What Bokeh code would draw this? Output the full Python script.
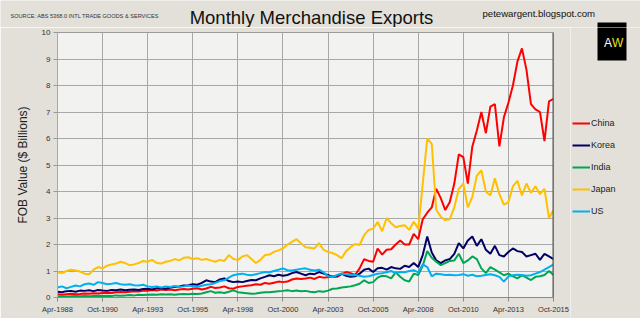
from bokeh.plotting import figure
from bokeh.layouts import column, row
from bokeh.models import Range1d, FixedTicker, Label, Span, Legend, LegendItem
from bokeh.embed import file_html
from bokeh.resources import INLINE

# month index: 0 = Apr-1988, quarterly readings up to 330 = Oct-2015
months = list(range(0, 331, 3))
tick_months = [0, 30, 60, 90, 120, 150, 180, 210, 240, 270, 300, 330]
tick_labels = ["Apr-1988", "Oct-1990", "Apr-1993", "Oct-1995", "Apr-1998", "Oct-2000",
               "Apr-2003", "Oct-2005", "Apr-2008", "Oct-2010", "Apr-2013", "Oct-2015"]
y_ticks = [0, 1, 2, 3, 4, 5, 6, 7, 8, 9, 10]

china = [0.12, 0.10, 0.12, 0.14, 0.12, 0.13, 0.15, 0.14, 0.16, 0.15,
         0.17, 0.18, 0.17, 0.20, 0.21, 0.20, 0.22, 0.24, 0.23, 0.26,
         0.25, 0.28, 0.26, 0.30, 0.28, 0.30, 0.27, 0.30, 0.32, 0.30,
         0.33, 0.35, 0.30, 0.34, 0.40, 0.36, 0.38, 0.42, 0.35, 0.33,
         0.40, 0.42, 0.44, 0.46, 0.50, 0.48, 0.55, 0.52, 0.56, 0.60,
         0.58, 0.60, 0.68, 0.72, 0.70, 0.72, 0.75, 0.70, 0.78, 0.75,
         0.76, 0.80, 0.78, 0.88, 0.96, 0.92, 0.85, 1.10, 1.45, 1.38,
         1.35, 1.85, 1.62, 1.80, 1.82, 2.00, 2.15, 2.00, 2.00, 2.40,
         2.20, 2.95, 3.20, 3.40, 4.10, 3.75, 3.30, 3.60, 4.30, 5.40,
         5.30, 4.30, 5.70, 6.30, 7.00, 6.20, 7.20, 7.30, 5.70, 6.80,
         7.35, 8.00, 8.90, 9.40, 8.60, 7.30, 7.10, 7.00, 5.90, 7.40,
         7.50]
korea = [0.22, 0.20, 0.24, 0.25, 0.22, 0.26, 0.25, 0.27, 0.24, 0.28,
         0.26, 0.25, 0.28, 0.27, 0.30, 0.27, 0.29, 0.30, 0.28, 0.32,
         0.33, 0.30, 0.35, 0.36, 0.33, 0.38, 0.40, 0.42, 0.45, 0.46,
         0.50, 0.48, 0.55, 0.65, 0.60, 0.58, 0.68, 0.72, 0.62, 0.58,
         0.60, 0.58, 0.62, 0.66, 0.65, 0.72, 0.78, 0.84, 0.80, 0.86,
         0.82, 0.85, 0.92, 0.96, 0.90, 0.84, 0.90, 0.88, 0.96, 0.90,
         0.85, 0.77, 0.82, 0.90, 0.82, 0.78, 0.80, 0.90, 1.05, 1.09,
         0.96, 1.10, 1.12, 1.05, 1.15, 1.10, 1.08, 1.20, 1.15, 1.30,
         1.15, 1.60, 2.30, 1.70, 1.40, 1.30, 1.40, 1.45, 1.65, 2.05,
         1.85, 2.15, 2.30, 1.95, 2.20, 1.80, 1.65, 1.95, 1.60, 1.55,
         1.72, 1.85, 1.75, 1.72, 1.55, 1.60, 1.65, 1.42, 1.65, 1.55,
         1.45]
india = [0.04, 0.05, 0.04, 0.05, 0.06, 0.05, 0.06, 0.05, 0.06, 0.07,
         0.06, 0.07, 0.06, 0.08, 0.07, 0.08, 0.09, 0.08, 0.10, 0.09,
         0.10, 0.11, 0.10, 0.12, 0.11, 0.12, 0.10, 0.12, 0.13, 0.12,
         0.14, 0.13, 0.15, 0.20, 0.24, 0.18, 0.20, 0.17, 0.22, 0.27,
         0.20, 0.18, 0.16, 0.14, 0.15, 0.18, 0.20, 0.20, 0.22, 0.24,
         0.25, 0.27, 0.24, 0.26, 0.24, 0.25, 0.22, 0.20, 0.24, 0.22,
         0.26, 0.33, 0.34, 0.38, 0.40, 0.42, 0.46, 0.52, 0.65, 0.55,
         0.58, 0.75, 0.82, 0.80, 0.72, 0.95, 0.78, 0.65, 0.60, 0.90,
         0.85, 1.20, 1.75, 1.50, 1.35, 1.22, 1.30, 1.38, 1.40, 1.65,
         1.30, 1.40, 1.55, 1.45, 1.10, 0.92, 1.15, 1.05, 0.95, 0.84,
         0.90, 0.80, 0.72, 0.84, 0.75, 0.66, 0.78, 0.80, 0.85, 1.00,
         0.85]
japan = [0.95, 0.92, 1.00, 1.05, 1.02, 0.98, 0.90, 0.88, 1.05, 1.15,
         1.10, 1.20, 1.25, 1.28, 1.35, 1.30, 1.22, 1.25, 1.30, 1.38,
         1.35, 1.42, 1.30, 1.28, 1.35, 1.38, 1.45, 1.40, 1.50, 1.52,
         1.45, 1.48, 1.42, 1.45, 1.40, 1.35, 1.42, 1.38, 1.60, 1.45,
         1.42, 1.55, 1.60, 1.45, 1.30, 1.42, 1.60, 1.62, 1.72, 1.78,
         1.85, 2.00, 2.10, 2.20, 2.05, 1.90, 1.88, 1.85, 2.05, 1.80,
         1.72, 1.68, 1.60, 1.48, 1.75, 1.90, 2.02, 1.98, 2.35, 2.55,
         2.60, 2.85, 2.50, 3.00, 2.80, 2.65, 2.70, 2.73, 2.55, 2.86,
         2.60, 4.30, 6.00, 5.80, 3.30, 3.05, 2.92, 2.95, 3.40, 4.10,
         4.30, 3.40, 3.80, 4.60, 4.80, 4.00, 3.85, 4.50, 3.90, 3.50,
         3.60, 4.20, 4.40, 3.85, 4.30, 3.95, 4.20, 3.90, 4.10, 3.00,
         3.30]
us = [0.38, 0.42, 0.35, 0.40, 0.45, 0.42, 0.50, 0.53, 0.48, 0.58,
      0.55, 0.50, 0.52, 0.55, 0.50, 0.48, 0.50, 0.46, 0.45, 0.48,
      0.42, 0.40, 0.42, 0.38, 0.42, 0.40, 0.43, 0.40, 0.42, 0.45,
      0.42, 0.40, 0.44, 0.48, 0.50, 0.55, 0.62, 0.65, 0.75, 0.84,
      0.88, 0.90, 0.86, 0.84, 0.88, 0.92, 0.96, 0.95, 1.00, 1.05,
      1.10, 1.03, 1.02, 1.05, 1.08, 1.10, 1.05, 1.02, 1.05, 0.95,
      0.80, 0.77, 0.85, 0.90, 0.88, 0.84, 0.85, 0.82, 0.78, 0.80,
      0.85, 0.90, 0.92, 0.95, 1.00, 0.92, 0.96, 0.95, 1.00, 1.03,
      0.95, 1.25, 1.15, 0.80, 0.90, 0.88, 0.85, 0.86, 0.84, 0.85,
      0.88, 0.82, 0.86, 0.80, 0.82, 0.85, 0.88, 0.84, 0.78, 0.60,
      0.80, 0.84, 0.86, 0.85, 0.82, 0.84, 0.90, 0.96, 1.05, 1.15,
      1.25]

series_names = ["China", "Korea", "India", "Japan", "US"]
series_values = [china, korea, india, japan, us]
series_colors = ["#ff0000", "#000066", "#00a651", "#ffc000", "#00b0f0"]

SANS = "Liberation Sans"
BG = "#e2e0d8"


def no_align(f):
    if "frame_align" in f.properties():
        f.frame_align = False


def blank(width, height, x0, x1, y_top, y_bottom):
    f = figure(width=width, height=height, output_backend="svg", toolbar_location=None,
               x_range=Range1d(x0, x1), y_range=Range1d(y_bottom, y_top),
               x_axis_location=None, y_axis_location=None, min_border=0)
    f.grid.visible = False
    f.outline_line_color = None
    f.background_fill_color = BG
    f.border_fill_color = BG
    no_align(f)
    return f


# ---------- header strip (canvas px coordinates) ----------
head = blank(640, 27, 0, 640, 0, 27)
head.add_layout(Label(x=10, y=15.3, text="SOURCE: ABS 5368.0 INTL TRADE GOODS & SERVICES",
                      text_font=SANS, text_font_size="5.6px", text_color="#333333",
                      text_baseline="middle"))
head.add_layout(Label(x=311, y=16.5, text="Monthly Merchandise Exports",
                      text_font=SANS, text_font_size="18.5px", text_color="#111111",
                      text_align="center", text_baseline="middle"))
head.add_layout(Label(x=482, y=12.5, text="petewargent.blogspot.com",
                      text_font=SANS, text_font_size="9.6px", text_color="#111111",
                      text_baseline="middle"))
head.quad(left=[597], right=[626], top=[22], bottom=[27.5], fill_color="#000000",
          line_color=None)

# ---------- chart ----------
p = figure(width=570, height=291, output_backend="svg", toolbar_location=None,
           x_range=Range1d(0, 330), y_range=Range1d(0, 10),
           min_border_left=57, min_border_right=17, min_border_top=5, min_border_bottom=21)
no_align(p)
p.border_fill_color = BG
p.background_fill_color = "#f2f2f0"
p.outline_line_color = "#9a9a9a"
p.outline_line_width = 1

p.xaxis.ticker = FixedTicker(ticks=tick_months)
p.xaxis.major_label_overrides = {m: lab for m, lab in zip(tick_months, tick_labels)}
p.xaxis.major_label_text_font = SANS
p.xaxis.major_label_text_font_size = "7.5px"
p.xaxis.major_label_text_color = "#333333"
p.xaxis.major_label_standoff = 3
p.xaxis.axis_line_color = "#888888"
p.xaxis.major_tick_line_color = "#888888"
p.xaxis.major_tick_out = 4
p.xaxis.major_tick_in = 0
p.xaxis.minor_tick_line_color = None

p.yaxis.ticker = FixedTicker(ticks=y_ticks)
p.yaxis.major_label_text_font = SANS
p.yaxis.major_label_text_font_size = "8px"
p.yaxis.major_label_text_color = "#333333"
p.yaxis.major_label_standoff = 3
p.yaxis.axis_line_color = "#aaaaaa"
p.yaxis.major_tick_line_color = "#999999"
p.yaxis.major_tick_out = 4
p.yaxis.major_tick_in = 0
p.yaxis.minor_tick_line_color = None
p.yaxis.axis_label = "FOB Value ($ Billions)"
p.yaxis.axis_label_text_font = SANS
p.yaxis.axis_label_text_font_size = "12px"
p.yaxis.axis_label_text_font_style = "normal"
p.yaxis.axis_label_text_color = "#222222"
p.yaxis.axis_label_standoff = 9

p.xgrid.ticker = FixedTicker(ticks=tick_months)
p.ygrid.ticker = FixedTicker(ticks=y_ticks)
p.grid.grid_line_color = "#a8a8a8"
p.grid.grid_line_alpha = 1.0

for name, vals, col in zip(series_names, series_values, series_colors):
    p.line(months, vals, line_color=col, line_width=2)

p.add_layout(Span(location=330, dimension="height", line_color="#505050", line_width=2))

# ---------- right side: legend + logo (canvas px coordinates) ----------
side = blank(70, 291, 570, 640, 27, 318)
items = []
for name, vals, col in zip(series_names, series_values, series_colors):
    # same series, out of this panel's view: only its legend swatch shows
    r = side.line(months, vals, line_color=col, line_width=2)
    items.append(LegendItem(label=name, renderers=[r]))
legend = Legend(items=items, location=(2, 97))
legend.label_text_font = SANS
legend.label_text_font_size = "9px"
legend.label_text_color = "#222222"
legend.glyph_width = 18
legend.glyph_height = 20
legend.label_height = 20
legend.label_standoff = 1
legend.spacing = 2
legend.padding = 0
legend.margin = 0
legend.background_fill_alpha = 0
legend.border_line_alpha = 0
side.add_layout(legend)

side.quad(left=[597], right=[626], top=[26.5], bottom=[60], fill_color="#000000",
          line_color=None)
side.add_layout(Label(x=611.5, y=42.5, text="A", text_font=SANS, text_font_size="12px",
                      text_color="#ffffff", text_align="right", text_baseline="middle"))
side.add_layout(Label(x=611.5, y=42.5, text="W", text_font=SANS, text_font_size="12px",
                      text_color="#e6e020", text_align="left", text_baseline="middle"))

layout = column(head, row(p, side, spacing=0), spacing=0)
open("out.html", "w").write(file_html(layout, INLINE))
